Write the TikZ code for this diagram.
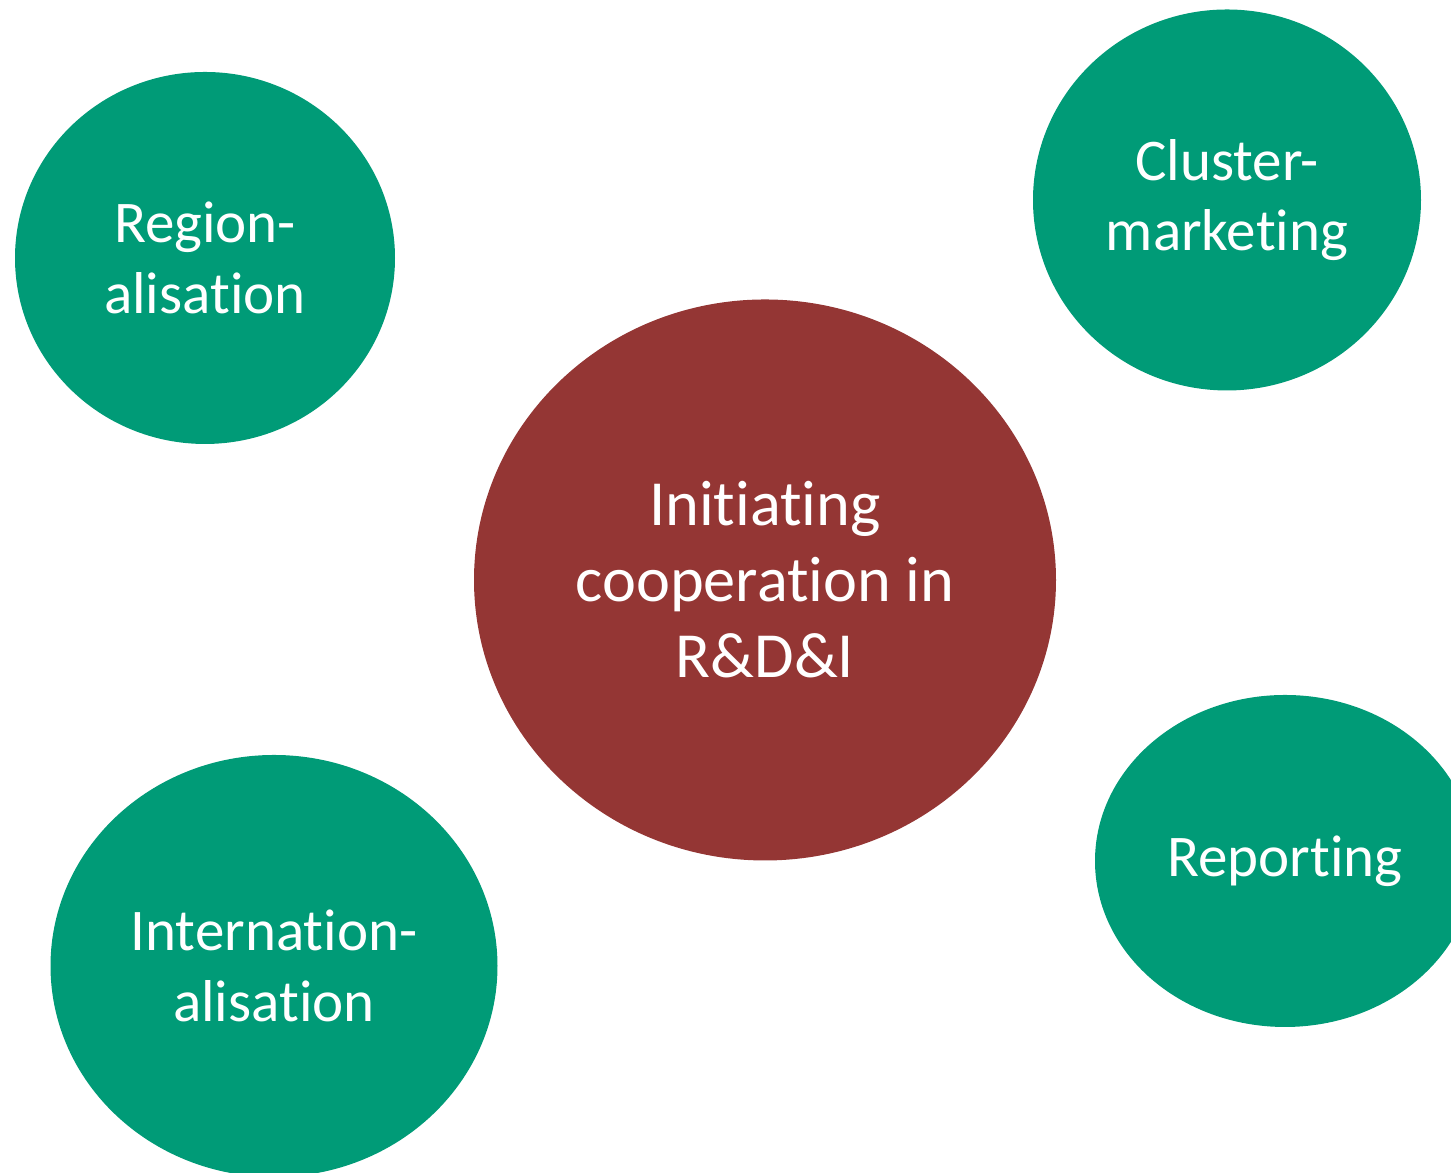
\documentclass[tikz,border=0pt]{standalone}
\usepackage{fontspec}
\setmainfont[Ligatures=NoCommon]{Carlito}
\usetikzlibrary{shapes.geometric}
\definecolor{bubblegreen}{HTML}{009B77}
\definecolor{bubblered}{HTML}{943634}
\tikzset{
  bubble/.style={ellipse, fill=bubblegreen, text=white, inner sep=0pt, align=center,
    font=\fontsize{16.8}{20}\selectfont},
  core/.style={ellipse, fill=bubblered, text=white, inner sep=0pt, align=center,
    font=\fontsize{18.3}{21.6}\selectfont}
}
\begin{document}
\begin{tikzpicture}
    \useasboundingbox (0,0) rectangle (14.51,11.73);
    \clip (0,0) rectangle (14.51,11.73);

    \node [core, minimum width=5.82cm, minimum height=5.61cm] (init) at (7.65,5.93)
      {Initiating\\cooperation in\\R\&D\&I};

    \node [bubble, minimum width=3.80cm, minimum height=3.72cm] (region) at (2.05,9.15)
      {Region-\\alisation};
    \node [bubble, minimum width=3.88cm, minimum height=3.81cm] (cluster) at (12.27,9.73)
      {Cluster-\\marketing};
    \node [bubble, minimum width=4.47cm, minimum height=4.22cm] (inter) at (2.74,2.07)
      {Internation-\\alisation};
    \node [bubble, minimum width=3.80cm, minimum height=3.32cm] (report) at (12.85,3.12)
      {Reporting};
\end{tikzpicture}
\end{document}
